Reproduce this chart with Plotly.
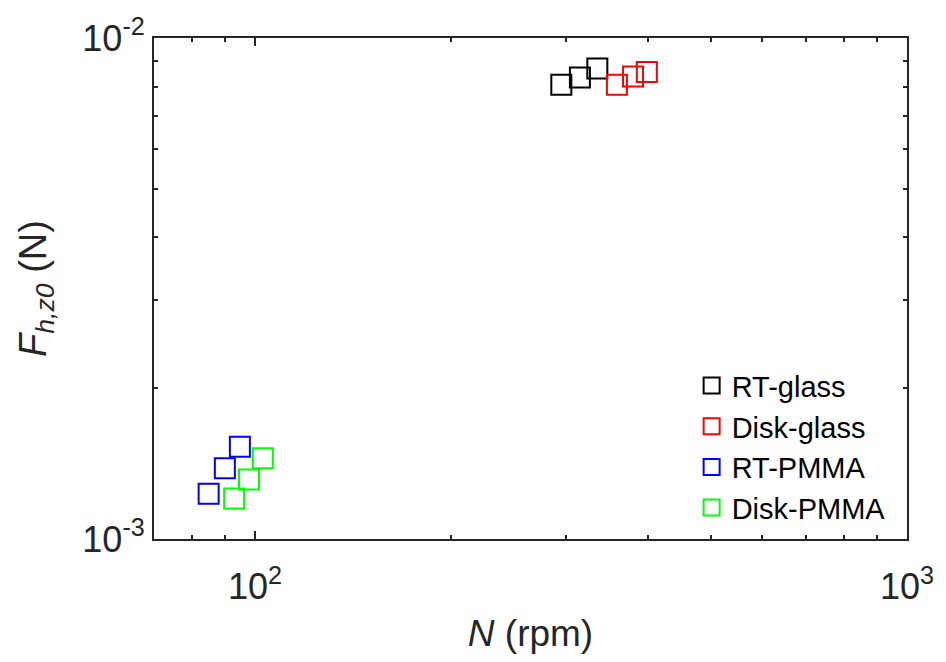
import plotly.graph_objects as go

# ---- data ----
series_names = ["RT-glass", "Disk-glass", "RT-PMMA", "Disk-PMMA"]
series_colors = ["#000000", "#FF0000", "#0000FF", "#00FF00"]

rt_glass_N = [295, 315, 335]
rt_glass_F = [8.07e-3, 8.34e-3, 8.69e-3]

disk_glass_N = [359, 380, 399]
disk_glass_F = [8.07e-3, 8.38e-3, 8.55e-3]

rt_pmma_N = [84.9, 89.9, 94.8]
rt_pmma_F = [1.231e-3, 1.385e-3, 1.528e-3]

disk_pmma_N = [92.9, 97.9, 102.8]
disk_pmma_F = [1.204e-3, 1.315e-3, 1.449e-3]

x_tickvals = [100, 1000]
x_ticktext = ["10<sup>2</sup>", "10<sup>3</sup>"]
y_tickvals = [1e-3, 1e-2]
y_ticktext = ["10<sup>-3</sup>", "10<sup>-2</sup>"]
x_minor = [70, 80, 90, 200, 300, 400, 500, 600, 700, 800, 900]
y_minor = [2e-3, 3e-3, 4e-3, 5e-3, 6e-3, 7e-3, 8e-3, 9e-3]

xs = [rt_glass_N, disk_glass_N, rt_pmma_N, disk_pmma_N]
ys = [rt_glass_F, disk_glass_F, rt_pmma_F, disk_pmma_F]

FONT = "Arial, Liberation Sans, Helvetica, sans-serif"
AX = "#262626"

fig = go.Figure()
for name, col, x, y in zip(series_names, series_colors, xs, ys):
    fig.add_trace(go.Scatter(
        x=x, y=y, mode="markers", name=name, legendgroup=name,
        marker=dict(symbol="square-open", size=20, color=col,
                    line=dict(width=2, color=col)),
    ))

axis_common = dict(
    type="log", showgrid=False, zeroline=False,
    showline=True, linecolor=AX, linewidth=2, mirror="ticks",
    ticks="inside", ticklen=8, tickwidth=2, tickcolor=AX,
    tickfont=dict(family=FONT, size=36, color=AX),
)

fig.update_xaxes(
    **axis_common,
    range=[1.845098, 3.0],
    tickmode="array", tickvals=x_tickvals, ticktext=x_ticktext,
    ticklabelstandoff=15,
    minor=dict(tickmode="array", tickvals=x_minor, ticks="inside",
               ticklen=4, tickwidth=2, tickcolor=AX, showgrid=False),
    title=dict(text="<i>N</i> (rpm)", font=dict(family=FONT, size=37, color=AX),
               standoff=14),
)
fig.update_yaxes(
    **axis_common,
    range=[-3, -2],
    tickmode="array", tickvals=y_tickvals, ticktext=y_ticktext,
    minor=dict(tickmode="array", tickvals=y_minor, ticks="inside",
               ticklen=4, tickwidth=2, tickcolor=AX, showgrid=False),
    title=dict(text="<i>F</i><sub><i>h,z0</i></sub> (N)",
               font=dict(family=FONT, size=38, color=AX), standoff=24),
)

fig.update_layout(
    width=946, height=662,
    margin=dict(l=154, r=33, t=30, b=123),
    paper_bgcolor="white", plot_bgcolor="white",
    showlegend=True,
    legend=dict(x=0.714, y=0.357, xanchor="left", yanchor="top",
                bgcolor="rgba(0,0,0,0)", borderwidth=0,
                font=dict(family=FONT, size=29, color="#000000"),
                tracegroupgap=0, itemsizing="trace"),
)

fig.write_html("out.html")
